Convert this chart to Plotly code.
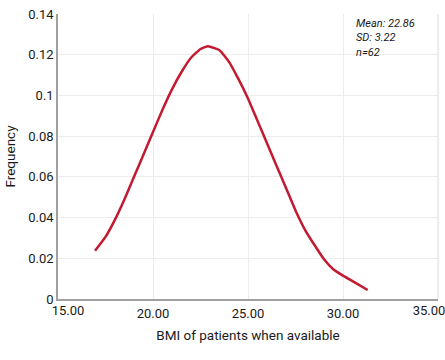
import plotly.graph_objects as go

# Values
bmi = [16.95, 17.5, 18.0, 18.5, 19.0, 19.5, 20.0, 20.5, 21.0, 21.5, 22.0, 22.5, 22.9,
       23.5, 24.0, 24.5, 25.0, 25.5, 26.0, 26.5, 27.0, 27.5, 28.0, 28.5, 29.0, 29.5,
       30.0, 30.5, 31.3]
freq = [0.0237, 0.0305, 0.039, 0.049, 0.060, 0.071, 0.082, 0.093, 0.103, 0.1115, 0.1185, 0.1228, 0.1242,
        0.1222, 0.1165, 0.108, 0.0985, 0.0875, 0.0765, 0.0655, 0.0545, 0.0435, 0.034, 0.0265, 0.0195, 0.0145,
        0.0115, 0.0088, 0.0044]

x_ticks_mid = [20, 25, 30]
x_tick_first = [15]
x_tick_last = [35]
y_ticks = [0, 0.02, 0.04, 0.06, 0.08, 0.1, 0.12, 0.14]
y_tick_labels = ["0", "0.02", "0.04", "0.06", "0.08", "0.1", "0.12", "0.14"]
stats_text = "Mean: 22.86<br>SD: 3.22<br>n=62"

FONT = "Roboto, Liberation Sans Narrow, sans-serif"
X_RANGE = [15, 35]

fig = go.Figure()
fig.add_trace(go.Scatter(
    x=bmi, y=freq, mode="lines",
    line=dict(color="#c21a30", width=2.5, shape="spline", smoothing=0.4),
    showlegend=False, hoverinfo="skip",
))

edge_axis = dict(
    overlaying="x", matches="x", range=X_RANGE, side="bottom", anchor="y",
    showgrid=False, showline=False, zeroline=False, ticks="", automargin=False,
    tickformat=".2f", ticklabeloverflow="allow", ticklabelstandoff=2,
    tickfont=dict(family=FONT, size=13, color="#1a1a1a"),
)

fig.update_layout(
    width=445, height=360, autosize=False,
    margin=dict(l=58, r=7, t=14, b=61, pad=0),
    paper_bgcolor="white", plot_bgcolor="white",
    font=dict(family=FONT, size=13, color="#1a1a1a"),
    xaxis=dict(
        range=X_RANGE, tickvals=x_ticks_mid, tickformat=".2f", automargin=False,
        showgrid=True, gridcolor="#ececec", gridwidth=1,
        showline=True, linecolor="#a0a0a0", linewidth=1.5,
        mirror=False, zeroline=False, ticks="",
        ticklabelstandoff=2,
        title=dict(text="BMI of patients when available", font=dict(family=FONT, size=13.5), standoff=10),
        tickfont=dict(family=FONT, size=13),
    ),
    xaxis2=dict(edge_axis, tickvals=x_tick_first, ticklabelshift=10),
    xaxis3=dict(edge_axis, tickvals=x_tick_last, ticklabelshift=-9),
    yaxis=dict(
        range=[0, 0.14], tickvals=y_ticks, ticktext=y_tick_labels, automargin=False,
        showgrid=True, gridcolor="#ececec", gridwidth=1,
        showline=True, linecolor="#a0a0a0", linewidth=1.5,
        zeroline=False, ticks="",
        title=dict(text="Frequency", font=dict(family=FONT, size=13.5), standoff=10),
        tickfont=dict(family=FONT, size=13),
    ),
    shapes=[dict(type="line", xref="paper", yref="paper", x0=1, x1=1, y0=0, y1=1,
                 line=dict(color="#dcdcdc", width=1))],
    annotations=[dict(
        text=stats_text, xref="paper", yref="paper", x=0.78, y=0.995,
        xanchor="left", yanchor="top", align="left", showarrow=False,
        font=dict(family=FONT, size=11, color="#1a1a1a", style="italic"),
    )],
)

# invisible anchor traces so the overlay axes are drawn
fig.add_trace(go.Scatter(x=x_tick_first, y=[None], xaxis="x2", yaxis="y", mode="lines",
                         showlegend=False, hoverinfo="skip"))
fig.add_trace(go.Scatter(x=x_tick_last, y=[None], xaxis="x3", yaxis="y", mode="lines",
                         showlegend=False, hoverinfo="skip"))

fig.write_html(
    "out.html",
    config={"responsive": False, "displayModeBar": False},
    post_script="document.body.style.margin='0';document.body.style.padding='0';",
)
